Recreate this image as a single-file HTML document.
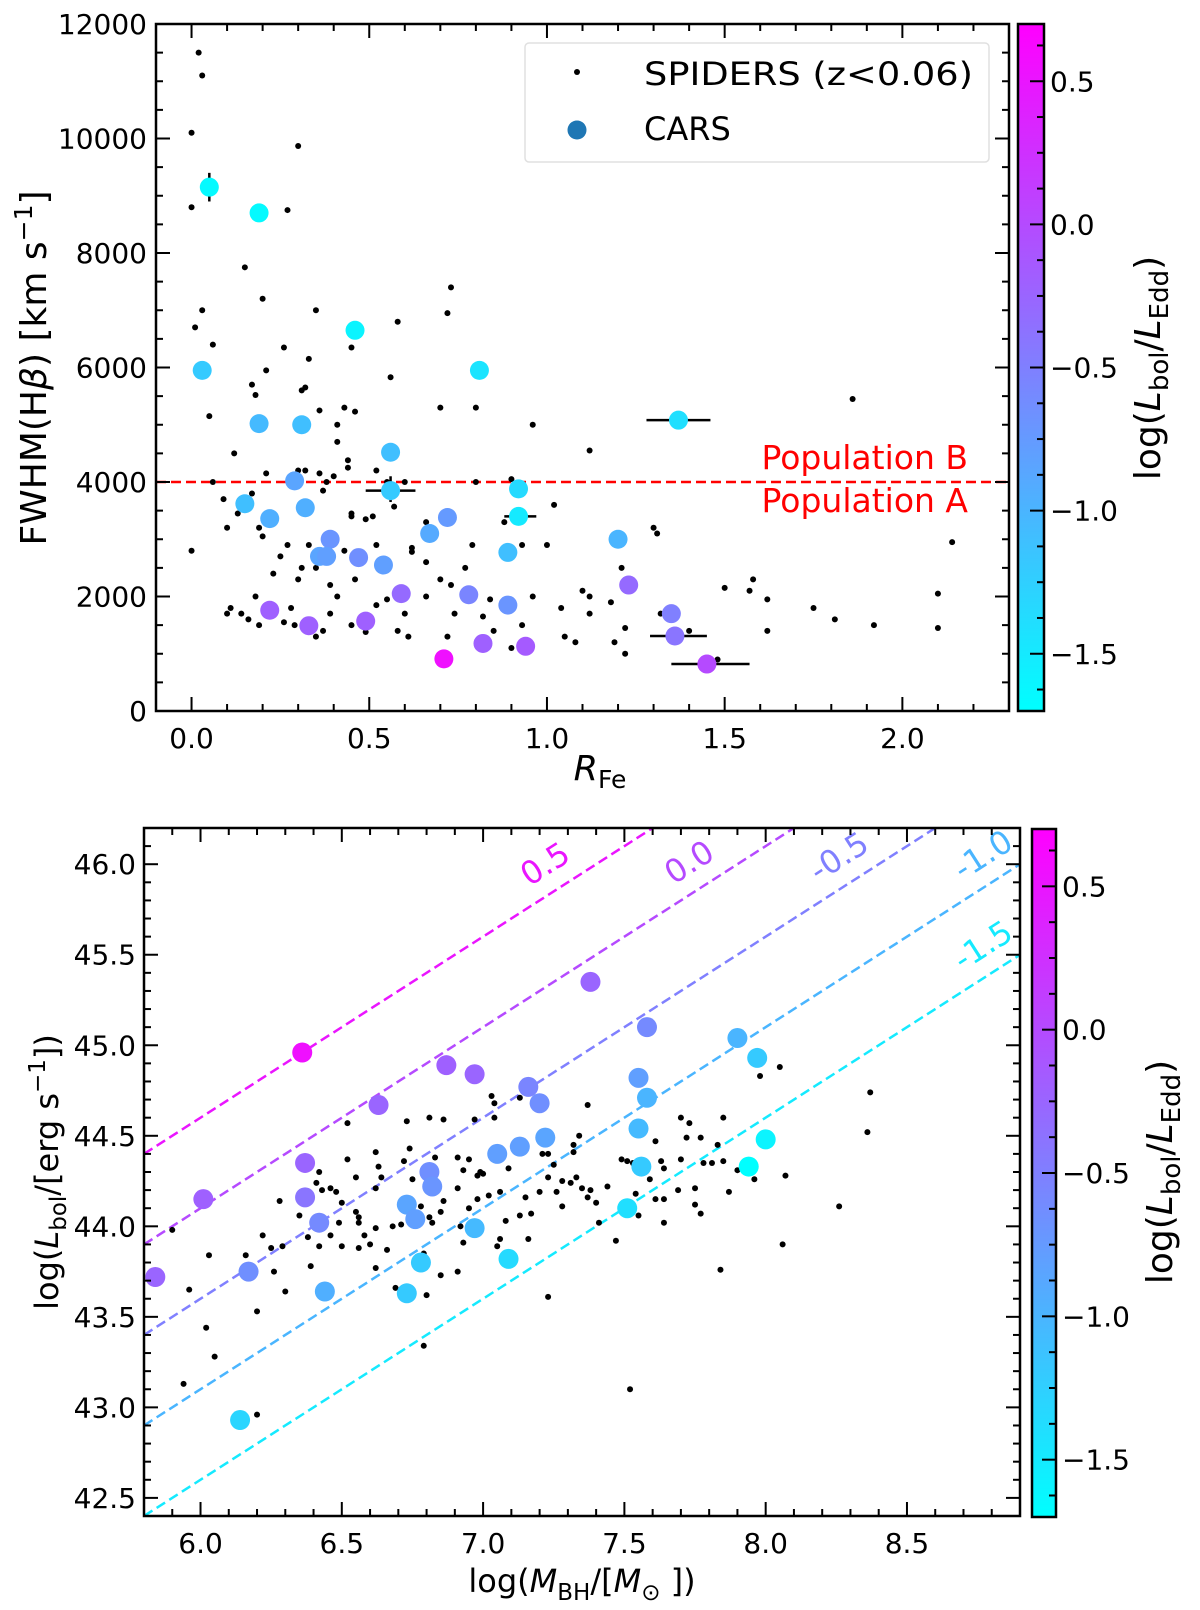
<!DOCTYPE html>
<html><head><meta charset="utf-8"><style>
body{margin:0;background:#fff;}
svg text{font-family:"DejaVu Sans","Liberation Sans",sans-serif;}
</style></head><body>
<svg id="fig" width="1200" height="1605" viewBox="0 0 1200 1605" xmlns="http://www.w3.org/2000/svg">
<defs>
<linearGradient id="cmapA" x1="0" y1="1" x2="0" y2="0"><stop offset="0" stop-color="#00ffff"/><stop offset="1" stop-color="#ff00ff"/></linearGradient>
<clipPath id="clipTop"><rect x="156" y="24" width="853" height="687"/></clipPath>
<clipPath id="clipBot"><rect x="144" y="828" width="876" height="688"/></clipPath>
</defs>
<g id="top"></g>
<g id="bot"></g>
</svg>
<script>
// ---------- TOP PANEL DATA ----------
const spidersR = [0.02,0.03,0.0,0.0,0.3,0.27,0.15,0.2,0.03,0.01,0.06,0.21,0.32,0.35,0.17,0.33,0.26,0.05,0.12,0.18,0.31,0.36,0.41,0.43,0.46,0.45,0.56,0.58,0.73,0.72,0.8,0.7,0.9,0.96,1.12,1.02,0.52,0.44,0.41,0.44,0.3,0.32,0.38,0.36,0.4,0.55,0.6,0.49,0.45,0.51,0.57,0.62,0.66,0.37,0.21,0.06,0.0,0.09,0.1,0.13,0.19,0.2,0.25,0.27,0.33,0.35,0.39,0.31,0.41,0.43,0.45,0.46,0.52,0.6,0.62,0.66,0.7,0.73,0.77,0.79,0.8,0.84,0.88,0.93,0.96,1.0,1.04,1.1,1.12,1.12,1.18,1.21,1.19,1.22,1.22,1.3,1.31,1.32,1.4,1.08,1.5,1.58,1.57,1.62,1.48,1.62,1.75,1.81,1.92,2.1,2.1,2.14,1.86,0.14,0.1,0.11,0.16,0.19,0.18,0.26,0.34,0.35,0.39,0.37,0.45,0.49,0.52,0.55,0.58,0.61,0.66,0.72,0.74,0.82,0.85,0.9,0.93,1.05,0.28,0.29,0.17,0.3,0.23];
const spidersFWHM = [11500,11100,10100,8800,9870,8750,7750,7200,7000,6700,6400,5950,5650,7000,5700,6150,6350,5150,4500,5520,5600,5250,5000,5300,5230,6350,5830,6800,7400,6950,5300,5300,4050,5000,4550,3600,4200,4250,4700,4380,4200,4200,4000,4150,4100,4000,4000,3350,3450,3400,3570,2780,3300,3850,4150,4000,2800,3700,3200,3450,3200,3050,2700,2900,2900,2500,2200,2500,2000,2800,3400,2300,2900,1700,2850,2600,2300,2200,2500,2900,4000,1950,3300,2900,2000,2900,1800,2100,2000,1700,1900,2500,1200,1450,1000,3200,3100,1700,1400,1200,2150,2300,2100,1950,900,1400,1800,1600,1500,2050,1450,2950,5450,1700,1700,1800,1600,1500,2000,1550,1450,1300,1700,1400,1500,1380,1850,1950,1400,1300,2000,1300,1700,1650,1400,1100,1500,1300,1800,1500,3800,2300,2400];
const carsR = [0.05,0.19,0.46,0.81,0.03,0.19,0.31,0.56,1.37,0.29,0.56,0.92,0.92,0.15,0.22,0.32,0.72,0.67,0.39,0.36,0.38,0.47,0.54,0.89,1.2,0.59,0.78,0.89,1.23,1.35,1.36,0.22,0.33,0.49,0.82,0.94,0.71,1.45];
const carsFWHM = [9150,8700,6650,5950,5950,5020,5000,4520,5080,4020,3850,3880,3400,3620,3360,3550,3380,3100,3000,2700,2700,2680,2550,2770,3000,2050,2030,1850,2200,1700,1310,1760,1490,1570,1180,1130,910,820];
const carsLam = [-1.65,-1.65,-1.6,-1.45,-1.2,-1.05,-1.1,-1.1,-1.4,-0.85,-1.2,-1.35,-1.5,-1.1,-0.95,-0.95,-0.75,-0.9,-0.7,-0.85,-0.8,-0.65,-0.8,-1.1,-1.0,-0.3,-0.55,-0.7,-0.3,-0.5,-0.4,-0.2,-0.2,-0.2,-0.2,-0.15,0.55,0.0];
const errIdx = [0,10,8,30,37,12];
const errXlo = [0.05,0.49,1.28,1.29,1.35,0.88];
const errXhi = [0.05,0.63,1.46,1.45,1.57,0.97];
const errYlo = [8900,3650,5080,1310,820,3400];
const errYhi = [9400,4100,5080,1310,820,3400];
const topXTicks = [0.0,0.5,1.0,1.5,2.0];
const topXTickLabels = ["0.0","0.5","1.0","1.5","2.0"];
const topYTicks = [0,2000,4000,6000,8000,10000,12000];
const topYTickLabels = ["0","2000","4000","6000","8000","10000","12000"];
const popDivide = [4000];
const cbTicks = [0.5,0.0,-0.5,-1.0,-1.5];
const cbTickLabels = ["0.5","0.0","\u22120.5","\u22121.0","\u22121.5"];

// ---------- BOTTOM PANEL DATA ----------
const spidersM = [5.90,6.03,5.96,6.02,6.05,5.94,6.20,6.20,6.16,6.22,6.25,6.26,6.30,6.28,6.29,6.35,6.39,6.38,6.41,6.42,6.43,6.42,6.46,6.48,6.46,6.49,6.50,6.50,6.52,6.52,6.55,6.55,6.56,6.56,6.56,6.58,6.60,6.62,6.63,6.64,6.62,6.62,6.62,6.66,6.68,6.69,6.71,6.72,6.73,6.74,6.75,6.78,6.79,6.80,6.79,6.81,6.81,6.83,6.83,6.81,6.82,6.85,6.86,6.85,6.86,6.91,6.91,6.91,6.93,6.93,6.92,6.95,6.95,6.97,6.98,6.98,6.99,7.00,7.02,7.03,7.04,7.04,7.06,7.08,7.06,7.05,7.09,7.13,7.13,7.15,7.17,7.16,7.20,7.21,7.23,7.23,7.23,7.25,7.26,7.28,7.28,7.31,7.33,7.32,7.32,7.34,7.35,7.37,7.37,7.38,7.40,7.41,7.44,7.47,7.49,7.51,7.53,7.54,7.55,7.52,7.57,7.59,7.61,7.61,7.63,7.64,7.64,7.64,7.69,7.70,7.70,7.73,7.72,7.75,7.75,7.77,7.77,7.78,7.81,7.83,7.85,7.85,7.84,7.87,7.90,7.96,7.98,7.99,8.05,8.07,8.06,8.26,8.36,8.37];
const spidersL = [43.98,43.84,43.65,43.44,43.28,43.13,42.96,43.53,43.84,43.95,43.88,43.75,43.64,44.14,43.89,44.06,43.78,43.94,44.24,44.30,44.20,43.89,44.21,44.19,43.95,44.02,44.13,43.89,44.57,44.37,44.27,44.08,44.05,44.02,43.88,43.95,43.90,44.41,44.33,44.27,44.21,43.99,43.77,43.87,44.00,43.66,44.01,44.36,44.58,44.43,44.26,44.11,43.85,43.62,43.34,44.60,44.33,44.31,44.38,44.05,44.02,43.73,44.14,44.08,44.59,44.21,44.38,43.75,44.31,43.91,44.00,44.37,44.10,44.59,44.28,44.15,44.30,44.29,44.17,44.72,44.68,44.60,44.19,44.03,43.93,43.89,44.32,44.71,44.06,44.16,44.07,43.93,44.19,44.40,44.40,44.27,43.61,44.34,44.19,44.11,44.25,44.24,44.27,44.45,44.41,44.50,44.21,44.67,44.16,44.20,44.13,44.02,44.22,43.92,44.37,44.36,44.35,44.18,44.06,43.10,44.56,44.26,44.47,44.15,44.36,44.32,44.02,44.15,44.20,44.37,44.60,44.57,44.49,44.21,44.12,44.07,44.49,44.35,44.35,44.45,44.36,44.60,43.76,44.19,44.31,44.26,44.83,44.51,44.88,44.28,43.90,44.11,44.52,44.74];
const carsM = [5.84,6.01,6.36,6.37,6.37,6.17,6.42,6.44,6.63,6.87,6.97,6.73,6.76,6.78,6.73,6.81,6.82,6.97,7.05,7.09,7.13,7.16,7.20,7.22,7.38,6.14,7.58,7.55,7.58,7.55,7.56,7.51,7.90,7.97,8.00,7.94];
const carsL = [43.72,44.15,44.96,44.35,44.16,43.75,44.02,43.64,44.67,44.89,44.84,44.12,44.04,43.80,43.63,44.30,44.22,43.99,44.40,43.82,44.44,44.77,44.68,44.49,45.35,42.93,45.10,44.82,44.71,44.54,44.33,44.10,45.04,44.93,44.48,44.33];
const carsLamB = [-0.25,-0.2,0.55,-0.25,-0.4,-0.65,-0.6,-0.95,-0.25,-0.2,-0.25,-0.85,-0.8,-1.2,-1.2,-0.65,-0.7,-1.05,-0.8,-1.35,-0.8,-0.55,-0.65,-0.85,-0.25,-1.3,-0.6,-0.8,-1.0,-1.05,-1.2,-1.4,-1.0,-1.2,-1.6,-1.7];
const eddLines = [0.5,0.0,-0.5,-1.0,-1.5];
const eddLineLabels = ["0.5","0.0","-0.5","-1.0","-1.5"];
const eddLabelM = [7.24,7.75,8.28,8.79,8.79];
const botXTicks = [6.0,6.5,7.0,7.5,8.0,8.5];
const botXTickLabels = ["6.0","6.5","7.0","7.5","8.0","8.5"];
const botYTicks = [42.5,43.0,43.5,44.0,44.5,45.0,45.5,46.0];
const botYTickLabels = ["42.5","43.0","43.5","44.0","44.5","45.0","45.5","46.0"];

const NS="http://www.w3.org/2000/svg";
function mk(tag,attrs,parent){const e=document.createElementNS(NS,tag);for(const k in attrs)e.setAttribute(k,attrs[k]);parent.appendChild(e);return e;}
function cmap(l){let t=(l+1.7)/2.4;t=Math.max(0,Math.min(1,t));return `rgb(${Math.round(255*t)},${Math.round(255*(1-t))},255)`;}

const TX0=156,TX1=1009,TY0=24,TY1=711, txmin=-0.1,txmax=2.3,tymin=0,tymax=12000;
const tx=v=>TX0+(v-txmin)/(txmax-txmin)*(TX1-TX0);
const ty=v=>TY1-(v-tymin)/(tymax-tymin)*(TY1-TY0);
const BX0=144,BX1=1020,BY0=828,BY1=1516, bxmin=5.8,bxmax=8.9,bymin=42.4,bymax=46.2;
const bx=v=>BX0+(v-bxmin)/(bxmax-bxmin)*(BX1-BX0);
const by=v=>BY1-(v-bymin)/(bymax-bymin)*(BY1-BY0);

function axesTicks(g,X0,X1,Y0,Y1,xs,ys,xmin,xmax,ymin,ymax,xMinor,yMinor,fx,fy){
  for(let v=Math.ceil(xmin/xMinor)*xMinor; v<=xmax+1e-9; v+=xMinor){
    const major=xs.some(m=>Math.abs(m-v)<1e-6); const L=major?14:7; const x=fx(v);
    mk('line',{x1:x,y1:Y1,x2:x,y2:Y1-L,stroke:'#000','stroke-width':2},g);
    mk('line',{x1:x,y1:Y0,x2:x,y2:Y0+L,stroke:'#000','stroke-width':2},g);
  }
  for(let v=Math.ceil(ymin/yMinor)*yMinor; v<=ymax+1e-9; v+=yMinor){
    const major=ys.some(m=>Math.abs(m-v)<1e-6); const L=major?14:7; const y=fy(v);
    mk('line',{x1:X0,y1:y,x2:X0+L,y2:y,stroke:'#000','stroke-width':2},g);
    mk('line',{x1:X1,y1:y,x2:X1-L,y2:y,stroke:'#000','stroke-width':2},g);
  }
}
function colorbar(g,x0,x1,y0,y1,name){
  const cy=v=>y1-(v+1.7)/2.4*(y1-y0);
  const r=mk('rect',{x:x0,y:y0,width:x1-x0,height:y1-y0,fill:'url(#cmapA)',stroke:'#000','stroke-width':2.5},g);
  
  
  for(let v=-1.625; v<=0.7; v+=0.125){
    const major=cbTicks.some(m=>Math.abs(m-v)<1e-6); const L=major?14:7;
    mk('line',{x1:x1,y1:cy(v),x2:x1-L,y2:cy(v),stroke:'#000','stroke-width':2},g);
  }
  cbTicks.forEach((v,i)=>{const t=mk('text',{x:x1+6,y:cy(v)+10,'font-size':28},g);t.textContent=cbTickLabels[i];
    
    });
}
function cbLabel(g,x,yc){
  const t=mk('text',{transform:`translate(${x},${yc}) rotate(-90)`,'text-anchor':'middle','font-size':36},g);
  t.innerHTML='log(<tspan font-style="italic">L</tspan><tspan font-size="26" dy="8">bol</tspan><tspan dy="-8">/</tspan><tspan font-style="italic">L</tspan><tspan font-size="26" dy="8">Edd</tspan><tspan dy="-8">)</tspan>';
  
  
}

// ---------- TOP ----------
const gt=document.getElementById('top');
const pt=mk('g',{'clip-path':'url(#clipTop)'},gt);
popDivide.forEach(v=>{const l=mk('line',{x1:TX0,x2:TX1,y1:ty(v),y2:ty(v),stroke:'#ff0000','stroke-width':2.5,'stroke-dasharray':'10,5'},pt);
  
  });
spidersR.forEach((r,i)=>{const c=mk('circle',{cx:tx(r),cy:ty(spidersFWHM[i]),r:3,fill:'#000'},pt);
  
  });
errIdx.forEach((k,i)=>{
  const cx=tx(carsR[k]),cy=ty(carsFWHM[k]);
  if(errXhi[i]>errXlo[i]) mk('line',{x1:tx(errXlo[i]),x2:tx(errXhi[i]),y1:cy,y2:cy,stroke:'#000','stroke-width':2.5},pt);
  if(errYhi[i]>errYlo[i]) mk('line',{x1:cx,x2:cx,y1:ty(errYlo[i]),y2:ty(errYhi[i]),stroke:'#000','stroke-width':2.5},pt);
});
carsR.forEach((r,i)=>{const c=mk('circle',{cx:tx(r),cy:ty(carsFWHM[i]),r:9.5,fill:cmap(carsLam[i])},pt);
  
  });
mk('rect',{x:TX0,y:TY0,width:TX1-TX0,height:TY1-TY0,fill:'none',stroke:'#000','stroke-width':2.5},gt);
axesTicks(gt,TX0,TX1,TY0,TY1,topXTicks,topYTicks,txmin,txmax,tymin,tymax,0.1,500,tx,ty);
topXTicks.forEach((v,i)=>{const t=mk('text',{x:tx(v),y:TY1+37,'text-anchor':'middle','font-size':28},gt);t.textContent=topXTickLabels[i];
  
  });
topYTicks.forEach((v,i)=>{const t=mk('text',{x:TX0-9,y:ty(v)+10,'text-anchor':'end','font-size':28},gt);t.textContent=topYTickLabels[i];
  
  });
{const t=mk('text',{x:600,y:780,'text-anchor':'middle','font-size':35},gt);
 t.innerHTML='<tspan font-style="italic">R</tspan><tspan font-size="25" dy="8">Fe</tspan>';
 
 }
{const t=mk('text',{transform:'translate(46,368) rotate(-90)','text-anchor':'middle','font-size':36},gt);
 t.innerHTML='FWHM(H<tspan font-style="italic">β</tspan>) [km s<tspan font-size="25" dy="-14">−1</tspan><tspan dy="14">]</tspan>';
 
 }
{const a=mk('text',{x:968,y:469,'text-anchor':'end','font-size':33,fill:'#ff0000'},gt);a.textContent='Population B';
 
 
 const b=mk('text',{x:968,y:512,'text-anchor':'end','font-size':33,fill:'#ff0000'},gt);b.textContent='Population A';
 
 }
{const lg=mk('g',{},gt);
 
 
 mk('rect',{x:525,y:43,width:464,height:119,rx:4,fill:'#fff','fill-opacity':0.8,stroke:'#e0e0e0','stroke-width':1.5},lg);
 mk('circle',{cx:577,cy:72,r:3,fill:'#000'},lg);
 mk('circle',{cx:577,cy:130,r:9.5,fill:'#1f77b4'},lg);
 const a=mk('text',{x:644,y:85,'font-size':32,textLength:329,lengthAdjust:'spacingAndGlyphs'},lg);a.textContent='SPIDERS (z<0.06)';
 
 
 const b=mk('text',{x:644,y:140,'font-size':32},lg);b.textContent='CARS';
 
 }
colorbar(gt,1018,1044,24,711,'top-colorbar');
cbLabel(gt,1160,368);

// ---------- BOTTOM ----------
const gb=document.getElementById('bot');
const pb=mk('g',{'clip-path':'url(#clipBot)'},gb);
eddLines.forEach((lam,i)=>{
  const col=cmap(lam);
  const l=mk('line',{x1:bx(bxmin),y1:by(bxmin+38.1+lam),x2:bx(bxmax),y2:by(bxmax+38.1+lam),stroke:col,'stroke-width':2.5,'stroke-dasharray':'10,5'},pb);
  
  
  const m=eddLabelM[i], x=bx(m), y=by(m+38.1+lam)-20;
  const ang=Math.atan2(by(bxmin)-by(bxmin+1),bx(bxmin+1)-bx(bxmin))*180/Math.PI;
  const t=mk('text',{transform:`translate(${x},${y}) rotate(${-ang})`,'text-anchor':'middle','font-size':32,fill:col},pb);
  t.textContent=eddLineLabels[i];
  
  
});
spidersM.forEach((m,i)=>{const c=mk('circle',{cx:bx(m),cy:by(spidersL[i]),r:3,fill:'#000'},pb);
  
  });
carsM.forEach((m,i)=>{const c=mk('circle',{cx:bx(m),cy:by(carsL[i]),r:10,fill:cmap(carsLamB[i])},pb);
  
  });
mk('rect',{x:BX0,y:BY0,width:BX1-BX0,height:BY1-BY0,fill:'none',stroke:'#000','stroke-width':2.5},gb);
axesTicks(gb,BX0,BX1,BY0,BY1,botXTicks,botYTicks,bxmin,bxmax,bymin,bymax,0.1,0.1,bx,by);
botXTicks.forEach((v,i)=>{const t=mk('text',{x:bx(v),y:BY1+37,'text-anchor':'middle','font-size':28},gb);t.textContent=botXTickLabels[i];
  
  });
botYTicks.forEach((v,i)=>{const t=mk('text',{x:BX0-8,y:by(v)+10,'text-anchor':'end','font-size':28},gb);t.textContent=botYTickLabels[i];
  
  });
{const t=mk('text',{x:582,y:1592,'text-anchor':'middle','font-size':32},gb);
 t.innerHTML='log(<tspan font-style="italic">M</tspan><tspan font-size="23" dy="8">BH</tspan><tspan dy="-8">/[</tspan><tspan font-style="italic">M</tspan><tspan font-size="23" dy="8">⊙</tspan><tspan dy="-8"> ])</tspan>';
 
 }
{const t=mk('text',{transform:'translate(58,1172) rotate(-90)','text-anchor':'middle','font-size':32},gb);
 t.innerHTML='log(<tspan font-style="italic">L</tspan><tspan font-size="23" dy="8">bol</tspan><tspan dy="-8">/[erg s</tspan><tspan font-size="23" dy="-13">−1</tspan><tspan dy="13">])</tspan>';
 
 }
colorbar(gb,1032,1056,829,1517,'bottom-colorbar');
cbLabel(gb,1172,1172);
</script>
</body></html>
